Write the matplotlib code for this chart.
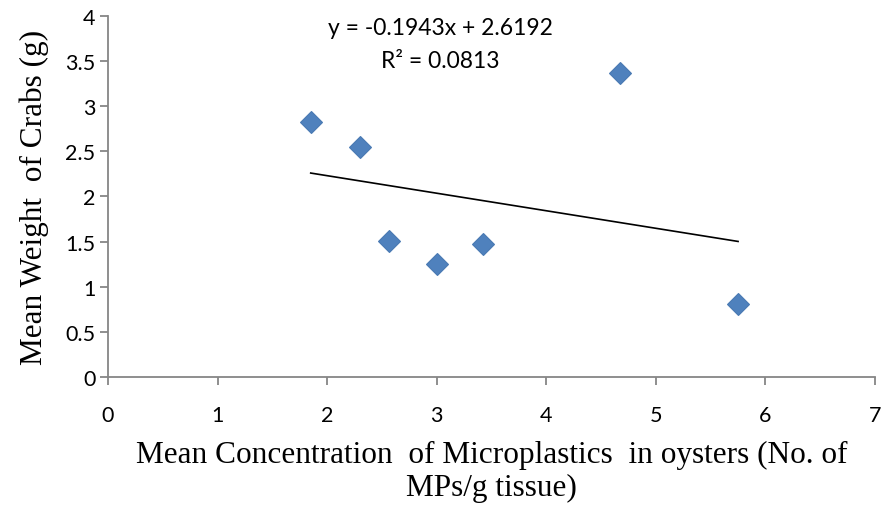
import matplotlib
matplotlib.use("Agg")
import matplotlib.pyplot as plt
import numpy as np

# data
conc = [1.85, 2.30, 2.56, 3.00, 3.42, 4.67, 5.75]
weight = [2.82, 2.55, 1.51, 1.25, 1.47, 3.37, 0.81]
slope, intercept = -0.1943, 2.6192
r2 = 0.0813
xticks = [0, 1, 2, 3, 4, 5, 6, 7]
yticks = [0, 0.5, 1, 1.5, 2, 2.5, 3, 3.5, 4]

tick_font = "Lato"
label_font = "Liberation Serif"
axis_grey = "#868686"

fig = plt.figure(figsize=(8.83, 5.10), dpi=100)
ax = fig.add_axes([0.1223, 0.2588, 0.8687, 0.7079])

ax.plot(conc, weight, linestyle="none", marker="D", ms=11,
        color="#4f81bd", mec="#4a7ab3", mew=0.8, zorder=3)
xf = np.array([min(conc), max(conc)])
ax.plot(xf, slope * xf + intercept, color="black", lw=1.2, zorder=2)

ax.set_xlim(0, 7); ax.set_ylim(0, 4)
ax.set_xticks(xticks); ax.set_yticks(yticks)
ax.set_xticklabels([f"{v:g}" for v in xticks], fontname=tick_font, fontsize=15.5)
ax.set_yticklabels([f"{v:g}" for v in yticks], fontname=tick_font, fontsize=15.5)
for s in ("top", "right"): ax.spines[s].set_visible(False)
for s in ("left", "bottom"):
    ax.spines[s].set_color(axis_grey); ax.spines[s].set_linewidth(1.3)
ax.tick_params(axis="both", colors=axis_grey, labelcolor="black", length=6, width=1.3)
ax.tick_params(axis="x", pad=14)
ax.tick_params(axis="y", pad=3)

sign = "-" if slope < 0 else "+"
ax.text(3.03, 3.87, f"y = {sign}{abs(slope):.4f}x + {intercept:.4f}", ha="center", va="center",
        fontname=tick_font, fontsize=16.5)
ax.text(3.03, 3.51, f"R² = {r2:.4f}", ha="center", va="center", fontname=tick_font, fontsize=16.5)

ax.set_ylabel("Mean Weight  of Crabs (g)", fontname=label_font, fontsize=22.5, labelpad=12)
ax.set_xlabel("Mean Concentration  of Microplastics  in oysters (No. of\nMPs/g tissue)",
              fontname=label_font, fontsize=22.5, linespacing=1.15, labelpad=11)

fig.savefig("out.png", dpi=100)
